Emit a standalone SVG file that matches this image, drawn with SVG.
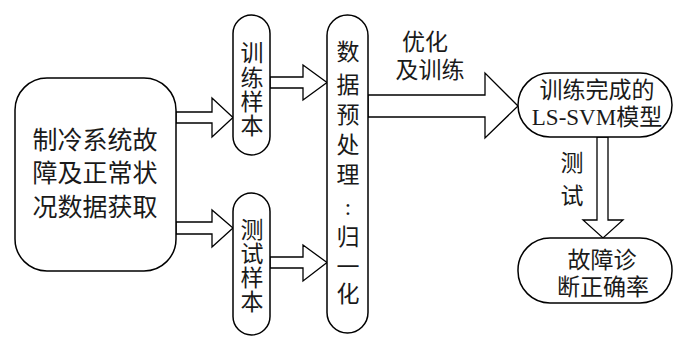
<svg xmlns="http://www.w3.org/2000/svg" width="700" height="349" viewBox="0 0 700 349">
<style>
.box{fill:#fff;stroke:#000;stroke-width:1.5}
.arr{fill:#fff;stroke:#000;stroke-width:1.3;stroke-linejoin:miter}
text{font-family:"Liberation Serif","Noto Sans CJK SC",serif;fill:#1a1a1a;text-anchor:middle;dominant-baseline:central}
.t25{font-size:25px}
.t23{font-size:23px}
</style>
<rect width="700" height="349" fill="#fff"/>
<g id="connectors">
<polygon class="arr" points="176,112 212,112 212,98 233,117.5 212,137 212,123 176,123"/>
<polygon class="arr" points="176,222 212,222 212,210 233,228 212,247 212,234 176,234"/>
<polygon class="arr" points="270,77 303,77 303,65 327,82.5 303,100 303,88 270,88"/>
<polygon class="arr" points="270,257 303,257 303,245 327,262.5 303,281 303,268 270,268"/>
<polygon class="arr" points="368,95 485,95 485,73 518,106 485,138 485,117 368,117"/>
<polygon class="arr" points="597,137 597,220 583,220 603,238 623,220 608,220 608,137"/>
<text class="t23" x="425" y="42">优化</text>
<text class="t23" x="430" y="70">及训练</text>
<text class="t23" x="572" y="163">测</text>
<text class="t23" x="572" y="196">试</text>
</g>
<g id="source">
<rect class="box" x="15" y="78" width="161" height="193" rx="32"/>
<text class="t25" x="95" y="140">制冷系统故</text>
<text class="t25" x="95" y="173">障及正常状</text>
<text class="t25" x="95" y="207">况数据获取</text>
</g>
<g id="train">
<rect class="box" x="233" y="15" width="37" height="140" rx="18.5"/>
<text class="t23" x="252" y="53">训</text>
<text class="t23" x="252" y="78">练</text>
<text class="t23" x="252" y="102">样</text>
<text class="t23" x="252" y="126">本</text>
</g>
<g id="test">
<rect class="box" x="233" y="193" width="37" height="142" rx="18.5"/>
<text class="t23" x="252" y="230">测</text>
<text class="t23" x="252" y="254">试</text>
<text class="t23" x="252" y="278">样</text>
<text class="t23" x="252" y="302">本</text>
</g>
<g id="preprocess">
<rect class="box" x="327" y="15" width="41" height="318" rx="20.5"/>
<text class="t23" x="348" y="52">数</text>
<text class="t23" x="348" y="85">据</text>
<text class="t23" x="348" y="115">预</text>
<text class="t23" x="348" y="145">处</text>
<text class="t23" x="348" y="175">理</text>
<text class="t23" x="348" y="207">:</text>
<text class="t23" x="348" y="237">归</text>
<text class="t23" x="348" y="267">一</text>
<text class="t23" x="348" y="294">化</text>
</g>
<g id="model">
<rect class="box" x="518" y="73" width="154" height="64" rx="32"/>
<text class="t23" x="597" y="90">训练完成的</text>
<text class="t23" x="597" y="117">LS-SVM模型</text>
</g>
<g id="accuracy">
<rect class="box" x="518" y="238" width="154" height="65" rx="32"/>
<text class="t23" x="602" y="260">故障诊</text>
<text class="t23" x="603" y="287">断正确率</text>
</g>
</svg>
